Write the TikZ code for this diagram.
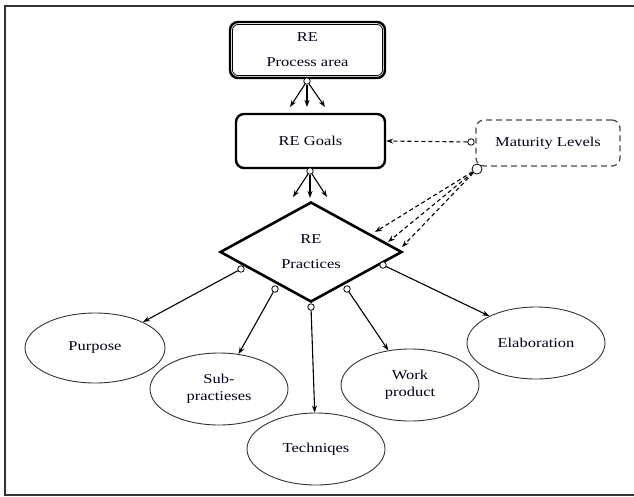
\documentclass[tikz,border=0pt]{standalone}
\usepackage{fontspec}
\setmainfont{Liberation Serif}[FakeStretch=1.22]
\usetikzlibrary{shapes.geometric,arrows.meta,calc}
\begin{document}
\begin{tikzpicture}[x=1pt,y=-1pt,
  txt/.style={font=\fontsize{13.5}{17}\selectfont, text=black!90!blue, align=center},
  thickbox/.style={txt, draw, rounded corners=8pt, line width=2.4pt, inner sep=0pt},
  dot/.style={circle, draw, fill=white, inner sep=0pt, minimum size=6.5pt, line width=0.8pt},
  bigdot/.style={dot, minimum size=10pt},
  oval/.style={txt, ellipse, draw=black!80, line width=0.9pt, inner sep=0pt, minimum width=138pt, minimum height=72pt},
  conn/.style={line width=1.1pt, -{Stealth[length=7pt,width=5pt]}},
  dconn/.style={conn, dash pattern=on 4pt off 3pt},
]
\useasboundingbox (0,0) rectangle (634,496);
% outer frame
\draw[line width=1.3pt, black!80] (650,6) -- (5,6) -- (5,495) -- (650,495);

% Process area
\node[thickbox, minimum width=155pt, minimum height=56pt] (pa) at (307.5,50) {RE\\[8pt]Process area};
\draw[line width=0.8pt, rounded corners=6pt]
  ([xshift=3.6pt,yshift=-3.6pt]pa.north west) rectangle ([xshift=-3.6pt,yshift=3.6pt]pa.south east);

% RE Goals
\node[thickbox, minimum width=149pt, minimum height=54pt] (goals) at (310.5,141) {RE Goals};

% RE Practices diamond
\node[txt, diamond, draw, line width=2.6pt, inner sep=0pt, minimum width=182pt, minimum height=100pt, shape aspect=1.82] (pr) at (311,252) {RE\\[8pt]Practices};

% Maturity Levels
\node[txt, draw=black!70, rounded corners=8pt, line width=1.3pt, dash pattern=on 6pt off 4pt,
  minimum width=144pt, minimum height=46pt] (ml) at (548,143) {Maturity Levels};

% Ellipses
\node[oval, minimum width=140pt, minimum height=70pt] (purpose) at (95,348) {Purpose};
\node[oval] (sub) at (219,389) {Sub-\\practieses};
\node[oval] (tech) at (316,449) {Techniqes};
\node[oval] (work) at (410,385) {Work\\product};
\node[oval] (elab) at (536,343) {Elaboration};

% free-end coordinates
\coordinate (g1) at (290,107);
\coordinate (g2) at (307,107);
\coordinate (g3) at (325,107);
\coordinate (p1) at (293,197);
\coordinate (p2) at (310,198);
\coordinate (p3) at (327,197);
\coordinate (t1) at (375,232);
\coordinate (t2) at (388,242);
\coordinate (t3) at (402,247);

% connectors from Process area
\node[dot] (pac) at (307,81) {};
\draw[conn] (pac) -- (g1);
\draw[conn] (pac) -- (g2);
\draw[conn] (pac) -- (g3);

% connectors from RE Goals
\node[dot] (gc) at (310,171) {};
\draw[conn] (gc) -- (p1);
\draw[conn] (gc) -- (p2);
\draw[conn] (gc) -- (p3);

% Maturity level connectors
\node[dot] (mc1) at (471,142) {};
\node[bigdot] (mc2) at (477,169) {};
\draw[dconn] (mc1) -- (goals.east);
\draw[dconn] (mc2) -- (t1);
\draw[dconn] (mc2) -- (t2);
\draw[dconn] (mc2) -- (t3);

% practice connectors
\node[dot] (d1) at (241,269) {};
\node[dot] (d2) at (275,289) {};
\node[dot] (d3) at (311,307) {};
\node[dot] (d4) at (347,289) {};
\node[dot] (d5) at (383,265) {};
\draw[conn] (d1) -- (purpose);
\draw[conn] (d2) -- (sub);
\draw[conn] (d3) -- (tech);
\draw[conn] (d4) -- (work.122);
\draw[conn] (d5) -- (elab.150);
\end{tikzpicture}
\end{document}
